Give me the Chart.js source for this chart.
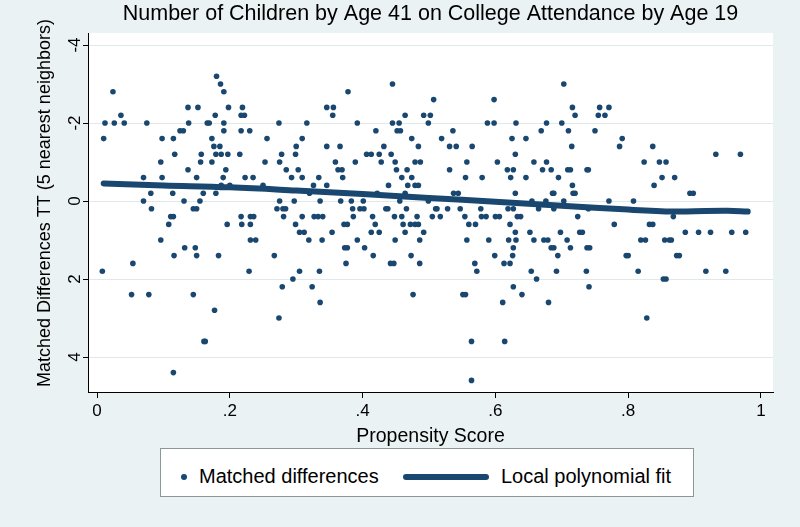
<!DOCTYPE html>
<html>
<head>
<meta charset="utf-8">
<script src="https://cdn.jsdelivr.net/npm/chart.js@4/dist/chart.umd.min.js"></script>
<style>
  html, body { margin: 0; padding: 0; background: #eaf2f3; }
  #wrap { position: relative; width: 800px; height: 527px; }
  #legend {
    position: absolute; left: 160px; top: 448px; width: 532px; height: 47px;
    background: #fff; border: 1px solid #8c9597;
    font: 20px "Liberation Sans", Arial, sans-serif; color: #000;
  }
  #legend span { position: absolute; }
  .dot { left: 20px; top: 25px; width: 6px; height: 6px; border-radius: 50%; background: #1a476f; }
  .lbl1 { left: 38px; top: 16px; }
  .bar { left: 242px; top: 25px; width: 86px; height: 6px; border-radius: 3px; background: #1a476f; }
  .lbl2 { left: 340px; top: 16px; }
</style>
</head>
<body>
<div id="wrap">
  <canvas id="chart" width="800" height="527"></canvas>
  <div id="legend">
    <span class="dot"></span><span class="lbl1">Matched differences</span>
    <span class="bar"></span><span class="lbl2">Local polynomial fit</span>
  </div>
</div>
<script>
// [propensity score, matched difference]
const matchedPoints = [
  // .00 - .17
  [0.024,-2.8],[0.012,-2.0],[0.026,-2.0],[0.036,-2.2],[0.041,-2.0],[0.075,-2.0],[0.010,-1.6],
  [0.137,-2.4],[0.152,-2.4],[0.138,-2.0],[0.125,-1.8],[0.130,-1.8],[0.098,-1.6],[0.115,-1.6],
  [0.117,-1.2],[0.096,-1.0],[0.157,-1.2],[0.156,-1.0],[0.137,-0.8],[0.070,-0.6],[0.098,-0.6],
  [0.150,-0.6],[0.081,-0.2],[0.114,-0.2],[0.160,-0.2],[0.070,0],[0.131,0],[0.155,0],
  [0.082,0.2],[0.145,0.2],[0.150,0.2],[0.166,-2.0],
  [0.111,0.4],[0.115,0.4],[0.108,0.6],[0.096,1.0],[0.132,1.2],[0.148,1.2],[0.116,1.4],
  [0.150,1.4],[0.054,1.6],[0.008,1.8],[0.052,2.4],[0.078,2.4],[0.145,2.4],[0.161,3.6],
  [0.163,3.6],[0.115,4.4],
  // .17 - .34
  [0.180,-3.2],[0.186,-3.0],[0.191,-2.8],[0.198,-2.4],[0.219,-2.4],[0.178,-2.2],[0.217,-2.2],
  [0.222,-2.2],[0.169,-2.0],[0.191,-2.0],[0.274,-2.0],[0.316,-2.0],[0.191,-1.8],[0.217,-1.8],
  [0.230,-1.8],[0.173,-1.6],[0.256,-1.6],[0.309,-1.6],[0.176,-1.4],[0.185,-1.4],[0.300,-1.4],
  [0.179,-1.2],[0.187,-1.2],[0.197,-1.2],[0.215,-1.2],[0.278,-1.2],[0.299,-1.2],[0.173,-1.0],
  [0.253,-1.0],[0.275,-1.0],[0.194,-0.8],[0.285,-0.8],[0.303,-0.8],[0.190,-0.6],[0.223,-0.6],
  [0.235,-0.6],[0.293,-0.6],[0.309,-0.6],[0.334,-0.6],[0.187,-0.4],[0.200,-0.4],[0.250,-0.4],
  [0.326,-0.4],[0.179,-0.2],[0.320,-0.2],[0.275,0],[0.297,0],[0.336,0],[0.271,0.2],[0.280,0.2],
  [0.284,0.2],[0.217,0.4],[0.231,0.4],[0.236,0.4],[0.281,0.4],[0.309,0.4],[0.327,0.4],
  [0.333,0.4],[0.340,0.4],[0.196,0.6],[0.218,0.6],[0.231,0.6],[0.299,0.6],[0.305,0.8],
  [0.312,0.8],[0.231,1.0],[0.239,1.0],[0.319,1.0],[0.339,1.0],[0.183,1.4],[0.267,1.4],
  [0.229,1.8],[0.305,1.8],[0.335,1.8],[0.295,2.0],[0.279,2.2],[0.324,2.2],[0.336,2.6],
  [0.177,2.8],[0.274,3.0],
  // .34 - .51
  [0.445,-3.0],[0.378,-2.8],[0.507,-2.6],[0.346,-2.4],[0.356,-2.4],[0.355,-2.2],[0.464,-2.2],
  [0.492,-2.2],[0.502,-2.2],[0.392,-2.0],[0.445,-2.0],[0.455,-2.0],[0.499,-2.0],[0.420,-1.8],
  [0.452,-1.8],[0.457,-1.8],[0.474,-1.6],[0.346,-1.4],[0.366,-1.4],[0.432,-1.4],[0.484,-1.4],
  [0.406,-1.2],[0.413,-1.2],[0.425,-1.2],[0.443,-1.2],[0.359,-1.0],[0.389,-1.0],[0.428,-1.0],
  [0.449,-1.0],[0.479,-1.0],[0.487,-1.0],[0.363,-0.8],[0.369,-0.8],[0.451,-0.8],[0.467,-0.8],
  [0.370,-0.6],[0.459,-0.6],[0.474,-0.6],[0.346,-0.4],[0.439,-0.4],[0.468,-0.4],[0.479,-0.4],
  [0.484,-0.4],[0.422,-0.2],[0.464,-0.2],[0.367,0],[0.383,0],[0.401,0],[0.456,0],[0.499,0],
  [0.385,0.2],[0.396,0.2],[0.402,0.2],[0.435,0.2],[0.438,0.2],[0.466,0.2],[0.510,0.2],
  [0.386,0.4],[0.415,0.4],[0.448,0.4],[0.459,0.4],[0.482,0.4],[0.505,0.4],[0.372,0.6],
  [0.377,0.6],[0.419,0.6],[0.461,0.6],[0.472,0.6],[0.479,0.6],[0.484,0.6],[0.354,0.8],
  [0.413,0.8],[0.425,0.8],[0.464,0.8],[0.492,0.8],[0.392,1.0],[0.449,1.0],[0.486,1.0],
  [0.373,1.2],[0.377,1.2],[0.403,1.2],[0.416,1.4],[0.473,1.4],[0.375,1.6],[0.442,1.6],
  [0.447,1.6],[0.486,1.6],[0.476,2.4],
  // .51 - .69
  [0.598,-2.6],[0.588,-2.0],[0.598,-2.0],[0.631,-2.0],[0.677,-2.0],[0.536,-1.8],[0.669,-1.8],
  [0.519,-1.6],[0.625,-1.6],[0.646,-1.6],[0.531,-1.4],[0.541,-1.4],[0.565,-1.4],[0.630,-1.2],
  [0.557,-1.0],[0.603,-1.0],[0.658,-1.0],[0.677,-1.0],[0.531,-0.8],[0.618,-0.8],[0.627,-0.8],
  [0.671,-0.8],[0.684,-0.8],[0.555,-0.6],[0.580,-0.6],[0.623,-0.6],[0.646,-0.6],[0.537,-0.2],
  [0.544,-0.2],[0.630,-0.2],[0.686,-0.2],[0.655,0],[0.676,0],[0.512,0.2],[0.528,0.2],
  [0.547,0.2],[0.578,0.2],[0.619,0.2],[0.627,0.2],[0.665,0.2],
  [0.517,0.4],[0.554,0.4],[0.579,0.4],[0.586,0.4],[0.600,0.4],[0.606,0.4],[0.633,0.4],
  [0.638,0.4],[0.560,0.6],[0.570,0.6],[0.622,0.6],[0.630,0.8],[0.652,0.8],[0.557,1.0],
  [0.590,1.0],[0.620,1.0],[0.631,1.0],[0.658,1.0],[0.673,1.0],[0.679,1.0],[0.627,1.2],
  [0.684,1.2],[0.599,1.4],[0.626,1.4],[0.569,1.6],[0.613,1.6],[0.622,1.6],[0.572,1.8],
  [0.654,1.8],[0.662,2.0],[0.627,2.2],[0.551,2.4],[0.555,2.4],[0.640,2.4],[0.611,2.6],
  [0.680,2.6],[0.564,3.6],[0.614,3.6],[0.564,4.6],
  // .69 - .98
  [0.703,-3.0],[0.716,-2.4],[0.757,-2.4],[0.771,-2.4],[0.720,-2.2],[0.755,-2.2],[0.765,-2.2],
  [0.700,-2.0],[0.710,-1.8],[0.750,-1.8],[0.791,-1.6],[0.715,-1.4],[0.787,-1.4],[0.837,-1.4],
  [0.824,-1.0],[0.847,-1.0],[0.857,-1.0],[0.709,-0.8],[0.713,-0.8],[0.738,-0.8],[0.740,-0.8],
  [0.695,-0.6],[0.851,-0.6],[0.716,-0.4],[0.839,-0.4],[0.688,-0.2],[0.717,-0.2],[0.720,-0.2],
  [0.703,0],[0.771,0],[0.808,0],[0.688,0.2],[0.740,0.2],
  [0.932,-1.2],[0.969,-1.2],[0.870,-0.6],[0.893,-0.2],[0.898,-0.2],
  [0.724,0.4],[0.779,0.6],[0.832,0.6],[0.837,0.6],[0.698,0.8],[0.727,0.8],[0.731,0.8],
  [0.708,1.0],[0.819,1.0],[0.826,1.0],[0.855,1.0],[0.688,1.2],[0.713,1.2],[0.738,1.2],
  [0.742,1.2],[0.694,1.4],[0.797,1.4],[0.800,1.4],[0.692,1.8],[0.737,1.8],[0.815,1.8],
  [0.853,2.0],[0.857,2.0],[0.741,2.2],[0.828,3.0],
  [0.868,0.4],[0.886,0.8],[0.906,0.8],[0.924,0.8],[0.956,0.8],[0.977,0.8],[0.862,1.0],
  [0.865,1.0],[0.873,1.4],[0.877,1.4],[0.917,1.8],[0.947,1.8]
];

// local polynomial fit
const fitX = [0.01, 0.1, 0.2, 0.3, 0.4, 0.5, 0.6, 0.7, 0.8, 0.87, 0.9, 0.95, 0.98];
const fitY = [-0.45, -0.40, -0.35, -0.27, -0.18, -0.08, 0.02, 0.12, 0.22, 0.27, 0.26, 0.25, 0.27];

const xTicks = [0, 0.2, 0.4, 0.6, 0.8, 1];
const xTickLabels = ["0", ".2", ".4", ".6", ".8", "1"];
const yTicks = [-4, -2, 0, 2, 4];
const yTickLabels = ["-4", "-2", "0", "2", "4"];
const yTitle = "Matched Differences TT (5 nearest neighbors)";

const navy = "#1a476f";
const fontFam = '"Liberation Sans", Arial, sans-serif';

// plot region fill, rotated y labels and y title like Stata
const stataLook = {
  id: "stataLook",
  beforeDraw(chart) {
    const { ctx, chartArea: a } = chart;
    ctx.save();
    ctx.fillStyle = "#fff";
    ctx.fillRect(a.left, a.top, a.right - a.left, a.bottom - a.top);
    ctx.restore();
  },
  afterDraw(chart) {
    const { ctx } = chart;
    const ys = chart.scales.y;
    ctx.save();
    ctx.fillStyle = "#000";
    ctx.textAlign = "center";
    ctx.textBaseline = "middle";
    ctx.font = "17px " + fontFam;
    ys.ticks.forEach((t, i) => {
      ctx.save();
      ctx.translate(ys.right - 13, ys.getPixelForValue(t.value));
      ctx.rotate(-Math.PI / 2);
      ctx.fillText(yTickLabels[i], 0, 0);
      ctx.restore();
    });
    ctx.font = "18px " + fontFam;
    ctx.translate(45, 203);
    ctx.rotate(-Math.PI / 2);
    ctx.fillText(yTitle, 0, 0);
    ctx.restore();
  }
};

new Chart(document.getElementById("chart"), {
  type: "scatter",
  data: {
    datasets: [
      {
        label: "Local polynomial fit",
        data: fitX.map((x, i) => ({ x, y: fitY[i] })),
        showLine: true,
        borderColor: navy,
        borderWidth: 6,
        borderCapStyle: "round",
        pointRadius: 0,
        tension: 0.4,
        order: 0
      },
      {
        label: "Matched differences",
        data: matchedPoints.map(([x, y]) => ({ x, y })),
        backgroundColor: navy,
        borderWidth: 0,
        pointRadius: 2.8,
        order: 1
      }
    ]
  },
  options: {
    responsive: false,
    animation: false,
    layout: { padding: { left: 0, right: 27, top: 0, bottom: 0 } },
    plugins: {
      legend: { display: false },
      tooltip: { enabled: false },
      title: {
        display: true,
        text: "Number of Children by Age 41 on College Attendance by Age 19",
        fullSize: false,
        color: "#000",
        font: { family: fontFam, size: 21.5, weight: "normal" },
        padding: { top: 1, bottom: 6.2 }
      }
    },
    scales: {
      x: {
        type: "linear",
        min: -0.0136,
        max: 1.0181,
        afterBuildTicks: (s) => { s.ticks = xTicks.map((v) => ({ value: v })); },
        afterFit: (s) => { s.height = 135; },
        grid: { drawOnChartArea: false, drawTicks: true, tickLength: 6, tickColor: "#000" },
        border: { display: true, color: "#000", width: 1 },
        ticks: {
          color: "#000",
          padding: 3,
          font: { family: fontFam, size: 17 },
          callback: (v, i) => xTickLabels[i]
        },
        title: {
          display: true,
          text: "Propensity Score",
          color: "#000",
          font: { family: fontFam, size: 19.5 },
          padding: { top: 0, bottom: 78.3 }
        }
      },
      y: {
        type: "linear",
        reverse: true,
        min: -4.308,
        max: 4.897,
        afterBuildTicks: (s) => { s.ticks = yTicks.map((v) => ({ value: v })); },
        afterFit: (s) => { s.width = 88; },
        grid: { color: "#e1e8ea", lineWidth: 1, tickLength: 5, tickColor: "#000" },
        border: { display: true, color: "#000", width: 1 },
        ticks: { display: false },
        title: { display: false }
      }
    }
  },
  plugins: [stataLook]
});
</script>
</body>
</html>
